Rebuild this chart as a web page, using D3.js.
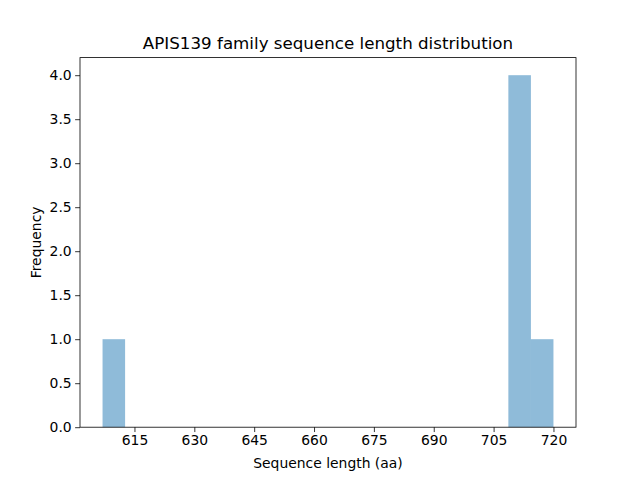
<!DOCTYPE html>
<html><head><meta charset="utf-8">
<script src="https://cdn.jsdelivr.net/npm/d3@7"></script>
<style>body{margin:0;background:#fff}svg{display:block}text{font-family:"DejaVu Sans",sans-serif;fill:#000}</style>
</head><body>
<script>
// Histogram data (20 equal-width bins from 607 to 720; only non-empty bins listed)
const binStart = [607, 708.7, 714.35];
const binEnd   = [612.65, 714.35, 720];
const counts   = [1, 4, 1];
const xTicks = [615, 630, 645, 660, 675, 690, 705, 720];
const yTicks = [0, 0.5, 1.0, 1.5, 2.0, 2.5, 3.0, 3.5, 4.0];
const title = "APIS139 family sequence length distribution";
const xLabel = "Sequence length (aa)";
const yLabel = "Frequency";

const W = 640, H = 480;
const m = {l: 80, r: 64, t: 57.6, b: 52.8};
const svg = d3.select("body").append("svg").attr("width", W).attr("height", H);
const xmin = 607, xmax = 720, pad = (xmax - xmin) * 0.05;
const x = d3.scaleLinear().domain([xmin - pad, xmax + pad]).range([m.l, W - m.r]);
const y = d3.scaleLinear().domain([0, 4.2]).range([H - m.b, m.t]);

const bars = binStart.map((s, i) => ({s, e: binEnd[i], c: counts[i]}));
svg.append("g").selectAll("rect").data(bars).join("rect")
  .attr("x", d => x(d.s)).attr("width", d => x(d.e) - x(d.s))
  .attr("y", d => y(d.c)).attr("height", d => y(0) - y(d.c))
  .attr("fill", "#1f77b4").attr("fill-opacity", 0.5);

const xa = svg.append("g").attr("transform", `translate(0,${H - m.b})`)
  .call(d3.axisBottom(x).tickValues(xTicks).tickSize(4.86).tickPadding(3.5).tickFormat(d3.format("d")));
const ya = svg.append("g").attr("transform", `translate(${m.l},0)`)
  .call(d3.axisLeft(y).tickValues(yTicks).tickSize(4.86).tickPadding(3.5).tickFormat(d3.format(".1f")));
[xa, ya].forEach(a => {
  a.select(".domain").remove();
  a.selectAll("line").attr("stroke", "#000").attr("stroke-width", 0.8);
  a.selectAll("text").style("font-size", "13.9px").style("font-family", "DejaVu Sans").attr("fill", "#000");
});
svg.append("rect").attr("x", m.l).attr("y", m.t).attr("width", W - m.l - m.r).attr("height", H - m.t - m.b)
  .attr("fill", "none").attr("stroke", "#000").attr("stroke-width", 0.8);

svg.append("text").attr("x", (m.l + W - m.r) / 2).attr("y", 49).attr("text-anchor", "middle")
  .style("font-size", "16.7px").text(title);
svg.append("text").attr("x", (m.l + W - m.r) / 2).attr("y", 467.5).attr("text-anchor", "middle")
  .style("font-size", "13.9px").text(xLabel);
svg.append("text").attr("transform", `translate(40.5,${(m.t + H - m.b) / 2}) rotate(-90)`).attr("text-anchor", "middle")
  .style("font-size", "13.9px").text(yLabel);
</script>
</body></html>
